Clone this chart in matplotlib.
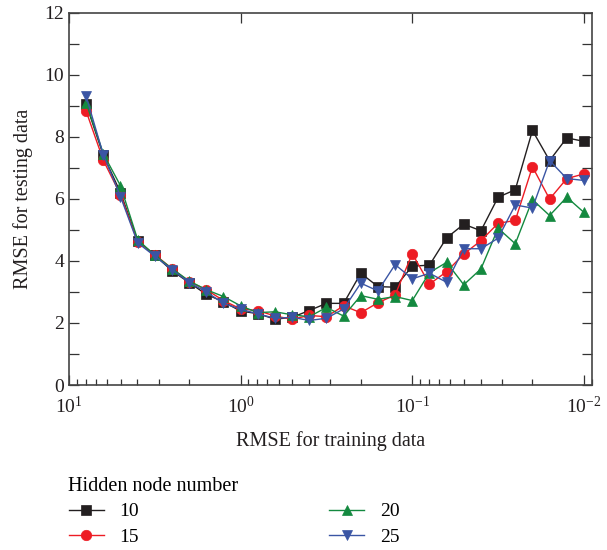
import matplotlib
matplotlib.use("Agg")
import matplotlib.pyplot as plt
from matplotlib.ticker import FixedLocator, NullFormatter, LogLocator

plt.rcParams['font.family'] = ['Liberation Serif', 'DejaVu Serif']
plt.rcParams['mathtext.fontset'] = 'custom'
plt.rcParams['mathtext.rm'] = 'Liberation Serif'
plt.rcParams['mathtext.it'] = 'Liberation Serif:italic'

# Training RMSE (x) values
train_rmse = [7.943, 6.310, 5.012, 3.981, 3.162, 2.512, 1.995, 1.585, 1.259, 1.000,
              0.7943, 0.6310, 0.5012, 0.3981, 0.3162, 0.2512, 0.1995, 0.1585, 0.1259, 0.1000,
              0.07943, 0.06310, 0.05012, 0.03981, 0.03162, 0.02512, 0.01995, 0.01585, 0.01259, 0.01000]

test_10 = [9.05, 7.40, 6.20, 4.65, 4.18, 3.68, 3.30, 2.92, 2.68, 2.38,
           2.30, 2.12, 2.18, 2.40, 2.63, 2.63, 3.60, 3.17, 3.15, 3.83,
           3.86, 4.74, 5.18, 4.97, 6.05, 6.29, 8.20, 7.23, 7.96, 7.85]
test_15 = [8.82, 7.24, 6.13, 4.62, 4.20, 3.75, 3.33, 3.07, 2.72, 2.45,
           2.40, 2.22, 2.12, 2.24, 2.20, 2.55, 2.33, 2.65, 2.90, 4.23,
           3.25, 3.65, 4.22, 4.65, 5.21, 5.30, 7.03, 5.99, 6.65, 6.80]
test_20 = [9.09, 7.45, 6.42, 4.68, 4.18, 3.75, 3.35, 3.07, 2.85, 2.55,
           2.33, 2.36, 2.26, 2.20, 2.50, 2.22, 2.88, 2.76, 2.85, 2.72,
           3.62, 3.95, 3.23, 3.74, 5.05, 4.55, 5.97, 5.46, 6.05, 5.56]
test_25 = [9.30, 7.42, 6.07, 4.58, 4.15, 3.72, 3.30, 3.00, 2.63, 2.44,
           2.29, 2.15, 2.18, 2.08, 2.15, 2.45, 3.28, 3.03, 3.88, 3.42,
           3.60, 3.31, 4.39, 4.39, 4.73, 5.80, 5.70, 7.23, 6.65, 6.59]

labels = ['10', '15', '20', '25']
colors = ['#231f20', '#ed1c24', '#13893f', '#3a55a4']
markers = ['s', 'o', '^', 'v']
series = [test_10, test_15, test_20, test_25]

x_ticks = [10, 1, 0.1, 0.01]
x_ticklabels = [r'$\mathregular{10^{1}}$', r'$\mathregular{10^{0}}$',
                r'$\mathregular{10^{-1}}$', r'$\mathregular{10^{-2}}$']
y_ticks = [0, 2, 4, 6, 8, 10, 12]

fig = plt.figure(figsize=(6.07, 5.5), dpi=100)
ax = fig.add_axes([69/607, 1-385/550, (592-69)/607, (385-12.5)/550])

for ys, lab, c, m in zip(series, labels, colors, markers):
    ax.plot(train_rmse, ys, color=c, marker=m, markersize=7.5, linewidth=1.0,
            markeredgecolor=c, markeredgewidth=0.5, label=lab)

ax.set_xscale('log')
ax.set_xlim(10, 10**-2.047)
ax.set_ylim(0, 12)
ax.set_xticks(x_ticks)
ax.set_xticklabels(x_ticklabels)
ax.xaxis.set_minor_locator(LogLocator(base=10, subs=range(2, 10), numticks=20))
ax.xaxis.set_minor_formatter(NullFormatter())
ax.set_yticks(y_ticks)
ax.yaxis.set_minor_locator(FixedLocator([1, 3, 5, 7, 9, 11]))

ax.tick_params(axis='both', which='major', direction='in', length=7.5, width=0.9,
               labelsize=14, colors='#333333', labelcolor='#231f20')
ax.tick_params(axis='y', which='minor', direction='in', length=7.5, width=0.9, colors='#333333')
ax.tick_params(axis='x', which='minor', direction='in', length=4, width=0.9, colors='#333333')
ax.tick_params(axis='y', which='both', right=True)
ax.tick_params(axis='x', which='major', top=True)
ax.tick_params(axis='x', which='major', pad=8)
for s in ax.spines.values():
    s.set_color('#444444')
    s.set_linewidth(1.2)

ax.set_xlabel('RMSE for training data', fontsize=14.5, color='#231f20', labelpad=10)
ax.set_ylabel('RMSE for testing data', fontsize=14.5, color='#231f20', labelpad=8)

h, l = ax.get_legend_handles_labels()
leg = fig.legend(h, l, title='Hidden node number', ncol=2, loc='upper left',
                 bbox_to_anchor=(51/607, 1-459/550), frameon=False, fontsize=14,
                 title_fontsize=14.5, alignment='left', handlelength=1.8,
                 columnspacing=9.8, labelspacing=0.38, handletextpad=0.8)

fig.savefig('out.png', dpi=100)
